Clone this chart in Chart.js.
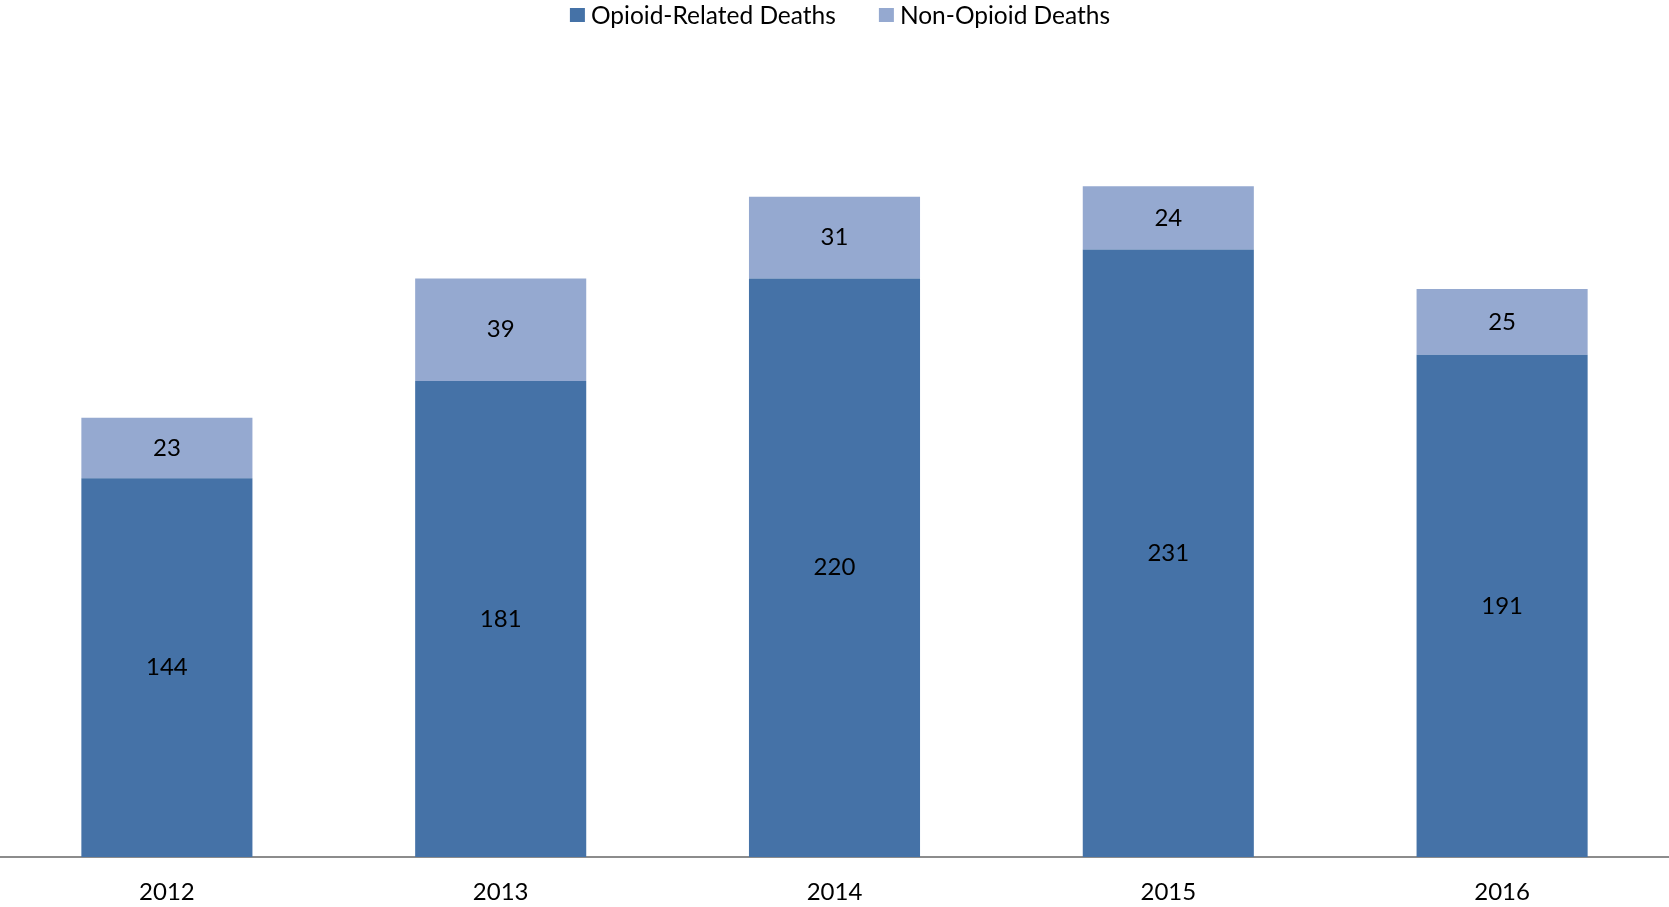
<!DOCTYPE html>
<html>
<head>
<meta charset="utf-8">
<script src="https://cdn.jsdelivr.net/npm/chart.js@4/dist/chart.umd.min.js"></script>
<style>
  html, body { margin: 0; padding: 0; background: #fff; }
  #wrap { width: 1669px; height: 907px; }
</style>
</head>
<body>
<div id="wrap"><canvas id="c" width="1669" height="907"></canvas></div>
<script>
const years = ['2012', '2013', '2014', '2015', '2016'];
const opioidDeaths = [144, 181, 220, 231, 191];
const nonOpioidDeaths = [23, 39, 31, 24, 25];
const seriesNames = ['Opioid-Related Deaths', 'Non-Opioid Deaths'];
const seriesColors = ['#4572a7', '#95a9d0'];

const FONT = 'Lato, "Open Sans", sans-serif';

// Writes each segment's value in the middle of its bar piece
const segmentLabels = {
  id: 'segmentLabels',
  afterDatasetsDraw(chart) {
    const ctx = chart.ctx;
    ctx.save();
    ctx.font = '24px ' + FONT;
    ctx.fillStyle = '#000';
    ctx.textAlign = 'center';
    ctx.textBaseline = 'middle';
    chart.data.datasets.forEach((ds, i) => {
      chart.getDatasetMeta(i).data.forEach((bar, j) => {
        const top = Math.min(bar.y, bar.base);
        const bottom = Math.max(bar.y, bar.base);
        ctx.fillText(String(ds.data[j]), bar.x, (top + bottom) / 2);
      });
    });
    ctx.restore();
  }
};

// Compact legend row across the top: small square swatch, tight gap, text
const topLegend = {
  id: 'topLegend',
  afterDraw(chart) {
    const ctx = chart.ctx;
    const box = 15, gapText = 6, gapItem = 43, cy = 15, centerX = 840;
    ctx.save();
    ctx.font = '24.5px ' + FONT;
    ctx.textBaseline = 'middle';
    ctx.textAlign = 'left';
    const items = chart.data.datasets.map(ds => ({
      text: ds.label, color: ds.backgroundColor, w: ctx.measureText(ds.label).width
    }));
    const total = items.reduce((s, it) => s + box + gapText + it.w, 0) + gapItem * (items.length - 1);
    let x = centerX - total / 2;
    items.forEach(it => {
      ctx.fillStyle = it.color;
      ctx.fillRect(x, cy - 7, box, 14);
      ctx.fillStyle = '#000';
      ctx.fillText(it.text, x + box + gapText, cy + 1);
      x += box + gapText + it.w + gapItem;
    });
    ctx.restore();
  }
};

new Chart(document.getElementById('c'), {
  type: 'bar',
  data: {
    labels: years,
    datasets: [
      { label: seriesNames[0], data: opioidDeaths, backgroundColor: seriesColors[0], categoryPercentage: 1, barPercentage: 0.5125 },
      { label: seriesNames[1], data: nonOpioidDeaths, backgroundColor: seriesColors[1], categoryPercentage: 1, barPercentage: 0.5125 }
    ]
  },
  options: {
    responsive: false,
    animation: false,
    layout: { padding: { left: 0, right: 0, top: 68, bottom: 0 } },
    plugins: {
      legend: { display: false },
      tooltip: { enabled: false }
    },
    scales: {
      x: {
        stacked: true,
        grid: { display: false, drawTicks: false },
        border: { display: true, color: '#8c8c8c', width: 2 },
        ticks: { font: { family: FONT, size: 24 }, color: '#000', padding: 21 },
        afterFit(scale) { scale.height = 50; }
      },
      y: {
        stacked: true,
        display: false,
        min: 0,
        max: 300
      }
    }
  },
  plugins: [segmentLabels, topLegend]
});
</script>
</body>
</html>
